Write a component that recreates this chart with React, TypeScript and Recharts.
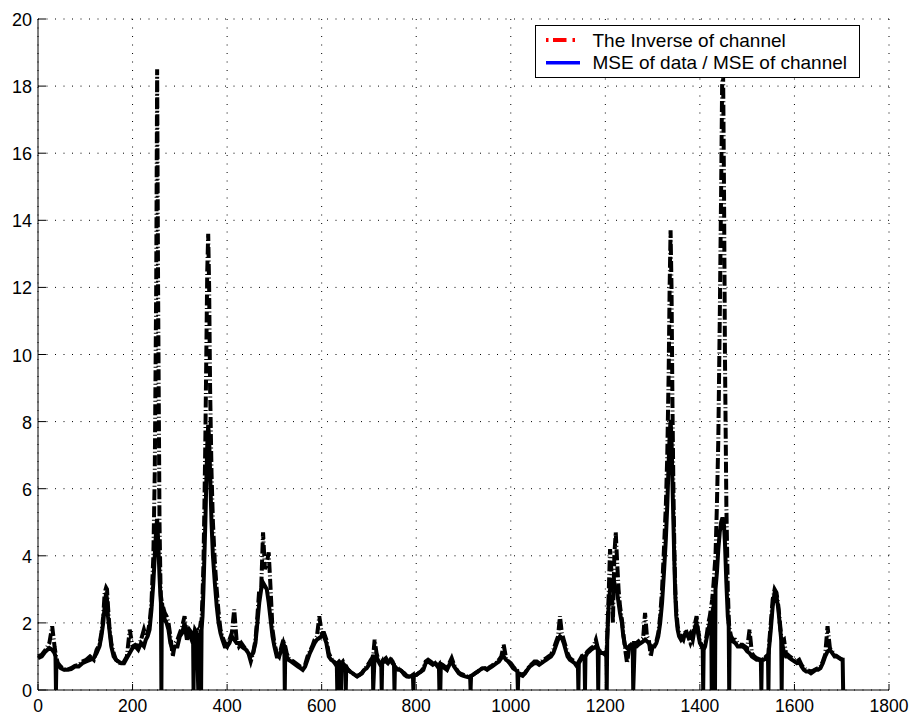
import React from 'react';
import { LineChart, Line, XAxis, YAxis, CartesianGrid, Legend } from 'recharts';

// Sample index along the block (horizontal axis)
const sampleIndex: number[] = [
  0, 8, 16, 24, 30, 35, 37, 38, 39, 42, 48, 55, 62, 70, 78, 86, 94, 102, 110, 118, 124, 130,
  134, 138, 141, 144, 146, 148, 151, 155, 160, 165, 170, 176, 182, 188, 194, 200,
  206, 212, 218, 224, 228, 232, 236, 240, 244, 247, 250, 252, 254, 257, 259, 260, 261, 262, 264,
  268, 272, 276, 280, 285, 290, 295, 300, 305, 310, 315, 320, 325, 328, 329, 330, 332, 336, 339, 340, 342, 344, 345, 346, 348, 350, 352, 354, 356, 358, 360, 362,
  364, 367, 370, 374, 378, 382, 386, 390, 395, 400, 405, 410, 415, 420, 425, 430, 435, 440, 445, 450, 455, 460,
  464, 468, 472, 476, 480, 484, 488, 492, 496, 500, 505, 510, 515, 519, 521, 522, 523, 526, 530, 535, 540, 545, 550, 555, 560, 565, 570, 575, 580, 585, 590, 595, 600,
  605, 610, 615, 620, 625, 630, 632, 633, 634, 637, 640, 641, 642, 645, 648, 650, 651, 652, 656, 660, 665, 670, 675, 680, 685, 690, 695, 700, 704,
  707, 708, 709, 712, 716, 720, 724, 726, 727, 728, 732, 736, 740, 745, 750, 753, 754, 755, 758, 762, 766, 770, 775, 780, 785, 790, 793, 794, 795, 800,
  805, 810, 815, 820, 825, 830, 835, 840, 845, 848, 849, 850, 851, 852, 856, 860, 865, 870, 875, 880, 885, 890, 895, 900, 905, 910, 914, 915, 916,
  920, 925, 930, 935, 940, 945, 950, 955, 960, 965, 970, 975, 980, 985, 990, 995, 1000, 1005, 1010, 1014, 1015, 1016, 1020, 1025, 1030, 1035, 1040,
  1045, 1050, 1055, 1060, 1065, 1070, 1075, 1080, 1085, 1090, 1095, 1100, 1104, 1108, 1112, 1116, 1120, 1125, 1130, 1135, 1140, 1142, 1143, 1144, 1148, 1152, 1156, 1157, 1158, 1162, 1166, 1170, 1175, 1180, 1184, 1185, 1186, 1190, 1195, 1200, 1202, 1203, 1204,
  1207, 1210, 1213, 1216, 1219, 1222, 1225, 1228, 1231, 1235, 1238, 1242, 1246, 1250, 1254, 1257, 1258, 1259, 1262, 1266, 1270, 1275, 1280, 1284, 1288, 1292, 1296, 1300,
  1304, 1308, 1312, 1316, 1320, 1324, 1328, 1331, 1334, 1336, 1338, 1340, 1342, 1344, 1346, 1348, 1350, 1353, 1356, 1360, 1365, 1370, 1375, 1380, 1385, 1390, 1393, 1396, 1400, 1404, 1406, 1407, 1408, 1411, 1415, 1418,
  1421, 1424, 1425, 1426, 1429, 1431, 1432, 1433, 1436, 1439, 1442, 1445, 1447, 1449, 1451, 1453, 1456, 1459, 1461, 1462, 1463, 1466, 1470,
  1475, 1480, 1485, 1490, 1495, 1500, 1505, 1510, 1515, 1520, 1525, 1529, 1530, 1531, 1535, 1540, 1544, 1545, 1546, 1550, 1554, 1558, 1562, 1566, 1570, 1572, 1573, 1574, 1578, 1582, 1586, 1590, 1595, 1600, 1605, 1610, 1615, 1620, 1625, 1630, 1635, 1640, 1645, 1650, 1655, 1660, 1665, 1670, 1675, 1680, 1685, 1690, 1695, 1700, 1702, 1703,
];

// 1 / |H| of the channel (dash-dot curve)
const inverseOfChannel: number[] = [
  1.0, 1.05, 1.2, 1.4, 1.9, 1.3, 1.1, 1.0, 0.95, 0.8, 0.7, 0.62, 0.6, 0.65, 0.72, 0.75, 0.85, 0.9, 1.0, 0.9, 1.2, 1.35,
  1.7, 2.2, 2.9, 3.05, 3.0, 2.5, 1.9, 1.4, 1.1, 0.9, 0.85, 0.75, 0.85, 1.0, 1.8, 1.3,
  1.35, 1.3, 1.5, 1.8, 1.6, 1.7, 2.0, 2.6, 4.0, 6.5, 12, 18.5, 12, 5.0, 3.2, 2.8, 2.7, 2.6, 2.5,
  2.3, 2.2, 2.0, 1.6, 1.0, 1.4, 1.5, 1.7, 1.9, 2.2, 1.6, 1.8, 1.7, 1.6, 1.7, 1.6, 1.8, 1.7, 1.7, 1.8, 1.8, 2.0, 2.0, 2.1, 2.8, 3.8, 5.5, 7.5, 10.0, 12.5, 13.6, 12.0,
  9.0, 6.5, 5.0, 3.8, 3.0, 2.3, 1.8, 1.6, 1.4, 1.3, 1.5, 1.7, 2.4, 1.5, 1.3, 1.4, 1.3, 1.2, 1.1, 0.85, 1.1, 1.5,
  2.2, 3.0, 3.0, 4.7, 3.6, 3.8, 4.1, 3.0, 1.8, 1.4, 1.1, 1.0, 1.3, 1.5, 1.4, 1.35, 1.3, 1.1, 0.95, 0.9, 0.85, 0.8, 0.75, 0.7, 0.65, 0.75, 1.0, 1.15, 1.3, 1.5, 1.6, 2.2, 1.7,
  1.7, 1.5, 1.1, 0.95, 0.85, 0.75, 0.8, 0.8, 0.8, 0.85, 0.8, 0.8, 0.8, 0.85, 0.75, 0.7, 0.7, 0.7, 0.6, 0.55, 0.5, 0.45, 0.42, 0.45, 0.5, 0.6, 0.7, 0.8, 0.9,
  0.95, 1.0, 1.0, 1.5, 1.1, 0.9, 0.8, 0.8, 0.8, 0.85, 0.9, 0.95, 0.85, 0.95, 0.85, 0.75, 0.7, 0.7, 0.7, 0.65, 0.6, 0.55, 0.5, 0.42, 0.4, 0.42, 0.45, 0.45, 0.45, 0.45,
  0.5, 0.55, 0.65, 0.85, 0.9, 0.85, 0.8, 0.8, 0.75, 0.75, 0.75, 0.75, 0.75, 0.78, 0.75, 0.7, 0.62, 0.8, 0.95, 0.75, 0.62, 0.52, 0.48, 0.45, 0.42, 0.4, 0.4, 0.4, 0.42,
  0.45, 0.5, 0.55, 0.6, 0.65, 0.65, 0.62, 0.68, 0.72, 0.78, 0.82, 0.9, 1.0, 1.35, 0.95, 0.85, 0.8, 0.7, 0.62, 0.58, 0.55, 0.5, 0.48, 0.45, 0.5, 0.62, 0.72,
  0.78, 0.85, 0.85, 0.8, 0.85, 0.9, 0.95, 1.0, 1.05, 1.2, 1.4, 1.6, 2.2, 1.7, 1.5, 1.3, 1.1, 0.95, 0.9, 0.85, 0.75, 0.78, 0.8, 0.85, 0.95, 1.05, 1.0, 1.0, 1.05, 1.15, 1.2, 1.25, 1.3, 1.5, 1.25, 1.2, 1.2, 1.15, 1.15, 1.1, 1.1, 1.2, 1.6,
  2.8, 4.2, 3.5, 2.0, 4.0, 4.7, 3.8, 3.0, 2.5, 2.1, 1.7, 1.2, 0.8, 1.2, 1.4, 1.4, 1.35, 1.35, 1.4, 1.4, 1.45, 1.5, 1.55, 2.3, 1.6, 1.5, 1.0, 1.3,
  1.3, 1.45, 1.7, 2.2, 3.0, 4.2, 5.5, 7.0, 9.5, 12.0, 13.7, 12.0, 8.5, 6.0, 4.2, 3.0, 2.4, 1.9, 1.7, 1.6, 1.5, 1.8, 1.6, 1.4, 1.6, 2.0, 2.2, 1.8, 1.5, 1.3, 1.25, 1.25, 1.25, 1.35, 1.7, 2.0,
  2.2, 2.5, 2.6, 2.7, 3.2, 3.6, 3.8, 4.0, 5.5, 7.5, 11.0, 15.0, 18.0, 18.6, 15.0, 10.0, 5.5, 3.0, 2.2, 1.9, 1.8, 1.6, 1.5,
  1.5, 1.4, 1.35, 1.35, 1.3, 1.25, 1.8, 1.1, 1.0, 0.95, 0.92, 0.9, 0.9, 0.92, 0.92, 1.0, 1.05, 1.1, 1.3, 2.0, 2.7, 3.0, 2.9, 2.5, 1.9, 1.6, 1.5, 1.45, 1.5, 1.1, 1.05, 1.0, 0.95, 0.9, 0.85, 0.9, 0.75, 0.65, 0.6, 0.58, 0.55, 0.58, 0.62, 0.65, 0.7, 0.85, 1.05, 1.9, 1.25, 1.15, 1.05, 1.0, 0.95, 0.92, 0.9, 0.9,
];

// MSE of data divided by MSE of channel (solid curve)
const mseRatio: number[] = [
  0.95, 1.0, 1.15, 1.25, 1.2, 1.1, 1.0, 0, 0.9, 0.75, 0.65, 0.6, 0.6, 0.62, 0.7, 0.7, 0.8, 0.85, 0.9, 0.95, 1.1, 1.3,
  1.6, 2.0, 2.5, 2.9, 2.7, 2.2, 1.8, 1.3, 1.0, 0.9, 0.85, 0.8, 0.8, 0.95, 1.1, 1.25,
  1.3, 1.2, 1.4, 1.3, 1.5, 1.6, 1.8, 2.4, 3.2, 4.0, 4.8, 5.1, 4.5, 3.4, 2.8, 2.6, 0, 2.6, 2.4,
  2.1, 2.0, 1.8, 1.4, 1.2, 1.3, 1.3, 1.6, 1.7, 2.0, 1.5, 1.7, 1.5, 1.6, 0, 1.6, 1.7, 1.6, 0, 1.7, 0, 1.8, 0, 1.8, 2.2, 3.0, 4.0, 5.0, 6.2, 7.3, 7.9, 7.5,
  6.5, 5.0, 4.0, 3.2, 2.5, 2.0, 1.7, 1.5, 1.3, 1.3, 1.4, 1.6, 1.5, 1.4, 1.4, 1.3, 1.25, 1.2, 1.1, 1.0, 1.1, 1.4,
  2.0, 2.6, 3.0, 3.2, 3.1, 3.0, 2.6, 2.1, 1.6, 1.3, 1.0, 1.0, 1.2, 1.4, 1.3, 0, 1.2, 1.0, 0.9, 0.85, 0.8, 0.75, 0.7, 0.65, 0.6, 0.7, 0.9, 1.1, 1.25, 1.4, 1.5, 1.55, 1.6,
  1.6, 1.4, 1.0, 0.9, 0.85, 0.8, 0.8, 0, 0.8, 0.8, 0.75, 0, 0.75, 0.8, 0.7, 0.7, 0, 0.65, 0.6, 0.55, 0.5, 0.45, 0.4, 0.45, 0.5, 0.6, 0.65, 0.75, 0.85,
  0.9, 0.95, 0, 1.0, 1.0, 0.85, 0.75, 0.8, 0, 0.8, 0.85, 0.85, 0.8, 0.9, 0.8, 0.75, 0, 0.7, 0.65, 0.6, 0.6, 0.55, 0.45, 0.4, 0.4, 0.42, 0.45, 0, 0.45, 0.45,
  0.5, 0.55, 0.6, 0.8, 0.85, 0.8, 0.75, 0.8, 0.7, 0.75, 0, 0.7, 0, 0.75, 0.7, 0.65, 0.6, 0.75, 0.85, 0.7, 0.6, 0.5, 0.45, 0.42, 0.4, 0.38, 0.4, 0, 0.42,
  0.45, 0.5, 0.55, 0.6, 0.65, 0.65, 0.6, 0.65, 0.7, 0.75, 0.8, 0.85, 0.95, 1.0, 0.9, 0.85, 0.75, 0.65, 0.6, 0.55, 0, 0.5, 0.45, 0.42, 0.5, 0.6, 0.7,
  0.75, 0.8, 0.8, 0.75, 0.8, 0.85, 0.9, 0.95, 1.0, 1.1, 1.3, 1.5, 1.6, 1.55, 1.4, 1.2, 1.0, 0.9, 0.85, 0.8, 0.7, 0.75, 0, 0.8, 0.9, 1.0, 0.95, 0, 1.0, 1.1, 1.15, 1.2, 1.25, 1.3, 1.2, 0, 1.2, 1.1, 1.1, 1.05, 1.0, 0, 1.5,
  2.5, 3.0, 3.3, 3.1, 3.2, 3.0, 2.9, 2.6, 2.3, 2.0, 1.6, 1.3, 1.25, 1.3, 1.35, 1.3, 1.2, 0, 1.3, 1.3, 1.35, 1.4, 1.45, 1.5, 1.45, 1.4, 1.3, 1.3,
  1.3, 1.4, 1.6, 2.0, 2.6, 3.5, 4.5, 5.5, 6.8, 7.6, 8.05, 7.5, 6.2, 5.0, 3.8, 2.8, 2.2, 1.8, 1.6, 1.5, 1.6, 1.7, 1.6, 1.7, 1.5, 1.9, 2.0, 1.7, 1.4, 1.3, 1.2, 0, 1.2, 1.3, 1.6, 1.8,
  2.0, 2.2, 0, 2.3, 2.5, 2.8, 0, 3.0, 3.5, 4.2, 4.7, 5.0, 5.1, 5.1, 4.9, 4.4, 3.2, 2.2, 1.9, 0, 1.7, 1.5, 1.45,
  1.4, 1.3, 1.3, 1.3, 1.25, 1.15, 1.1, 1.0, 0.95, 0.9, 0.9, 0.85, 0, 0.9, 0.9, 0.95, 1.0, 0, 1.2, 1.8, 2.5, 2.9, 2.8, 2.4, 1.8, 1.5, 0, 1.4, 1.1, 1.0, 1.0, 0.95, 0.9, 0.85, 0.8, 0.85, 0.7, 0.6, 0.55, 0.55, 0.5, 0.55, 0.6, 0.6, 0.65, 0.8, 1.0, 1.15, 1.2, 1.1, 1.0, 1.0, 0.95, 0.9, 0.9, 0,
];

const xTicks = [0, 200, 400, 600, 800, 1000, 1200, 1400, 1600, 1800];
const yTicks = [0, 2, 4, 6, 8, 10, 12, 14, 16, 18, 20];

const seriesNames = ['The Inverse of channel', 'MSE of data / MSE of channel'];
const legendColors = ['#ff0000', '#0000ff'];

const rows = sampleIndex.map((n, i) => ({
  n,
  inverse: inverseOfChannel[i],
  ratio: mseRatio[i],
}));

const WIDTH = 911;
const HEIGHT = 716;
const Y_AXIS_WIDTH = 38;
const X_AXIS_HEIGHT = 26;
const FONT = '"Liberation Sans", Arial, Helvetica, sans-serif';
const X_TICK_LEN = 6;
const Y_TICK_LEN = 8;

const BottomTick = (props: any) => {
  const { x, y, payload } = props;
  return (
    <g>
      <line x1={x} x2={x} y1={y} y2={y - X_TICK_LEN} stroke="#000" strokeWidth={1} />
      <text x={x} y={y + 22} textAnchor="middle" fontFamily={FONT} fontSize={17.5} fill="#000">
        {payload.value}
      </text>
    </g>
  );
};

const TopTick = (props: any) => {
  const { x, y } = props;
  return <line x1={x} x2={x} y1={y} y2={y + X_TICK_LEN} stroke="#000" strokeWidth={1} />;
};

const LeftTick = (props: any) => {
  const { x, y, payload } = props;
  return (
    <g>
      <line x1={x} x2={x + Y_TICK_LEN} y1={y} y2={y} stroke="#000" strokeWidth={1} />
      <text x={x - 6} y={y + 7} textAnchor="end" fontFamily={FONT} fontSize={18} fill="#000">
        {payload.value}
      </text>
    </g>
  );
};

const RightTick = (props: any) => {
  const { x, y } = props;
  return <line x1={x} x2={x - Y_TICK_LEN} y1={y} y2={y} stroke="#000" strokeWidth={1} />;
};

const LegendBox = () => (
  <svg width={326} height={54} style={{ display: 'block' }}>
    <rect x={0.5} y={0.5} width={324} height={52} fill="#fff" stroke="#000" strokeWidth={1} />
    <line
      x1={11}
      x2={41}
      y1={15}
      y2={15}
      stroke={legendColors[0]}
      strokeWidth={4}
      strokeDasharray="2.5 4.5 13.5 6 2.5 40"
    />
    <text x={57.5} y={21.7} fontFamily={FONT} fontSize={19} fill="#000">
      {seriesNames[0]}
    </text>
    <line x1={11} x2={45} y1={37.7} y2={37.7} stroke={legendColors[1]} strokeWidth={3.5} />
    <text x={57.5} y={44} fontFamily={FONT} fontSize={19} fill="#000">
      {seriesNames[1]}
    </text>
  </svg>
);

export default function App() {
  return (
    <div style={{ width: WIDTH, height: HEIGHT, background: '#fff' }}>
      <style>{'body{margin:0;background:#fff;}'}</style>
      <LineChart
        width={WIDTH}
        height={HEIGHT}
        data={rows}
        margin={{ top: 19, right: 22, bottom: 0, left: 0 }}
      >
        <CartesianGrid
          xAxisId="bottom"
          yAxisId="left"
          stroke="#000"
          strokeWidth={1}
          strokeDasharray="1 7.5"
          horizontalValues={yTicks}
          verticalValues={xTicks}
        />
        <XAxis
          xAxisId="bottom"
          dataKey="n"
          type="number"
          domain={[0, 1800]}
          ticks={xTicks}
          interval={0}
          height={X_AXIS_HEIGHT}
          tickSize={0}
          tickMargin={0}
          tickLine={false}
          axisLine={{ stroke: '#000', strokeWidth: 1 }}
          tick={<BottomTick />}
        />
        <XAxis
          xAxisId="top"
          orientation="top"
          dataKey="n"
          type="number"
          domain={[0, 1800]}
          ticks={xTicks}
          interval={0}
          height={0}
          tickSize={0}
          tickMargin={0}
          tickLine={false}
          axisLine={{ stroke: '#000', strokeWidth: 1 }}
          tick={<TopTick />}
        />
        <YAxis
          yAxisId="left"
          type="number"
          domain={[0, 20]}
          ticks={yTicks}
          interval={0}
          width={Y_AXIS_WIDTH}
          tickSize={0}
          tickMargin={0}
          tickLine={false}
          allowDataOverflow
          axisLine={{ stroke: '#000', strokeWidth: 1 }}
          tick={<LeftTick />}
        />
        <YAxis
          yAxisId="right"
          orientation="right"
          type="number"
          domain={[0, 20]}
          ticks={yTicks}
          interval={0}
          width={0}
          tickSize={0}
          tickMargin={0}
          tickLine={false}
          axisLine={{ stroke: '#000', strokeWidth: 1 }}
          tick={<RightTick />}
        />
        <Line
          xAxisId="bottom"
          yAxisId="left"
          type="linear"
          dataKey="inverse"
          name={seriesNames[0]}
          stroke="#000"
          strokeWidth={4}
          strokeDasharray="11 2.5 1 2.5"
          dot={false}
          activeDot={false}
          isAnimationActive={false}
        />
        <Line
          xAxisId="bottom"
          yAxisId="left"
          type="linear"
          dataKey="ratio"
          name={seriesNames[1]}
          stroke="#000"
          strokeWidth={4}
          dot={false}
          activeDot={false}
          isAnimationActive={false}
        />
        <Legend
          layout="vertical"
          align="center"
          verticalAlign="middle"
          content={<LegendBox />}
          wrapperStyle={{ position: 'absolute', left: 535, top: 25, width: 326, height: 54 }}
        />
      </LineChart>
    </div>
  );
}
